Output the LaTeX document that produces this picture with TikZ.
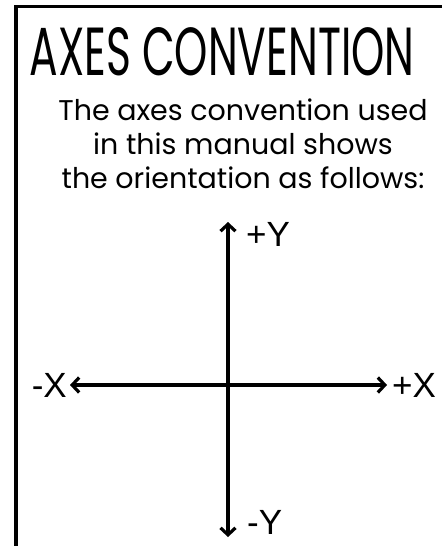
\documentclass[tikz,border=0pt]{standalone}
\usepackage{fontspec}
\setmainfont{Poppins}
\newfontfamily\axisfont{Liberation Sans}
\usetikzlibrary{arrows.meta,positioning}

\begin{document}
\begin{tikzpicture}[x=1pt,y=-1pt,
  axis/.style={line width=3.2pt,{Straight Barb[length=7pt,width=15pt]}-{Straight Barb[length=7pt,width=15pt]}},
  axlabel/.style={font=\axisfont\fontsize{35}{35}\selectfont,inner sep=0pt}]
  \useasboundingbox (0,0) rectangle (442,546);
  \draw[line width=3.8pt] (16.3,546) -- (16.3,6.5) -- (442,6.5);

  \node[anchor=base,inner sep=0pt] (title) at (222,75) {\resizebox{385pt}{48pt}{AXES CONVENTION}};
  \node[anchor=north,align=center,inner sep=0pt,font=\fontsize{28.5}{34}\selectfont]
    (intro) at (243,99) {The axes convention used\\in this manual shows\\the orientation as follows:};

  % axes ends
  \coordinate (ytop) at (228,222);
  \coordinate (ybot) at (228,537);
  \coordinate (xleft) at (70,385);
  \coordinate (xright) at (387,385);
  \draw[axis] (ybot) -- (ytop);
  \draw[axis] (xleft) -- (xright);

  \node[axlabel,right=18pt of ytop,yshift=-12pt] (ypos) {+Y};
  \node[axlabel,right=19pt of ybot,yshift=15pt] (yneg) {-Y};
  \node[axlabel,left=3pt of xleft] (xneg) {-X};
  \node[axlabel,right=5pt of xright] (xpos) {+X};
\end{tikzpicture}
\end{document}
